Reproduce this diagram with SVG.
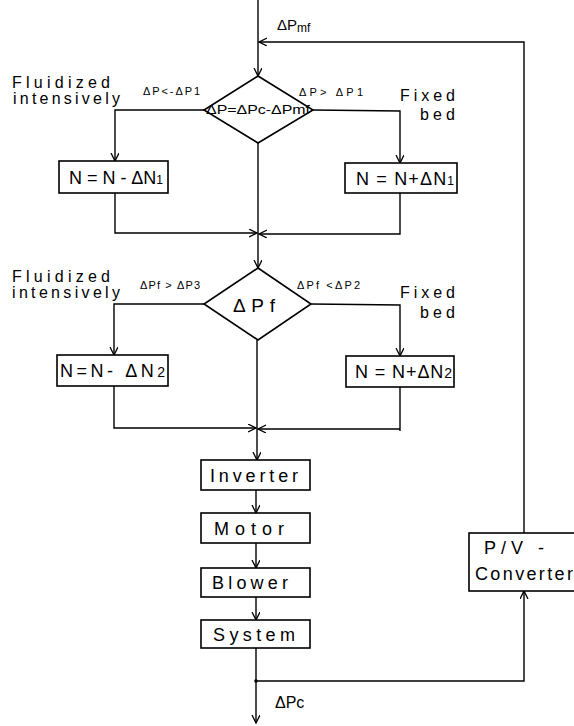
<svg xmlns="http://www.w3.org/2000/svg" width="574" height="726" viewBox="0 0 574 726">
<style>
.ln{fill:none;stroke:#000;stroke-width:1.4}
.bx{fill:#fff;stroke:#000;stroke-width:1.6}
.t{font-family:"Liberation Sans",Arial,sans-serif;fill:#000}
.big{font-size:18px}
.lab{font-size:16px}
.sm{font-size:11px}
</style>
<defs>
<marker id="arr" markerUnits="userSpaceOnUse" markerWidth="12" markerHeight="12" refX="8" refY="4" orient="auto">
<path d="M0,0 L8,4 L0,8" fill="none" stroke="#000" stroke-width="1.3"/>
</marker>
</defs>
<rect width="574" height="726" fill="#fff"/>
<g id="connectors">
<path class="ln" d="M258,0 V76" marker-end="url(#arr)"/>
<path class="ln" d="M524,533 V42 H259" marker-end="url(#arr)"/>
<path class="ln" d="M204,110 H115 V161" marker-end="url(#arr)"/>
<path class="ln" d="M313,110 L400,111 V163" marker-end="url(#arr)"/>
<path class="ln" d="M115,193 V233 H257" marker-end="url(#arr)"/>
<path class="ln" d="M400,193 V234 H259" marker-end="url(#arr)"/>
<path class="ln" d="M258,143 V268" marker-end="url(#arr)"/>
<path class="ln" d="M204,304 H114 V355" marker-end="url(#arr)"/>
<path class="ln" d="M311,304 L400,305 V356" marker-end="url(#arr)"/>
<path class="ln" d="M114,386 V428 H256" marker-end="url(#arr)"/>
<path class="ln" d="M400,387 V431 M400,429 H258" marker-end="url(#arr)"/>
<path class="ln" d="M257,340 V460" marker-end="url(#arr)"/>
<path class="ln" d="M256,490 V513" marker-end="url(#arr)"/>
<path class="ln" d="M256,543 V568" marker-end="url(#arr)"/>
<path class="ln" d="M256,597 V620" marker-end="url(#arr)"/>
<path class="ln" d="M256,648 V723" marker-end="url(#arr)"/>
<path class="ln" d="M256,681 H524 V591" marker-end="url(#arr)"/>
<circle cx="256" cy="681" r="1.8" fill="#000"/>
<text class="t" x="277" y="30" font-size="15">ΔP<tspan font-size="12" dy="2">mf</tspan></text>
<text class="t sm" x="143" y="95" textLength="57" lengthAdjust="spacing">ΔP&lt;-ΔP1</text>
<text class="t sm" x="299" y="96" textLength="64" lengthAdjust="spacing">ΔP&gt; ΔP1</text>
<text class="t lab" x="12" y="88" textLength="98" lengthAdjust="spacing">Fluidized</text>
<text class="t lab" x="13" y="104" textLength="107" lengthAdjust="spacing">intensively</text>
<text class="t lab" x="400" y="101" textLength="55" lengthAdjust="spacing">Fixed</text>
<text class="t lab" x="420" y="120" textLength="35" lengthAdjust="spacing">bed</text>
<text class="t sm" x="140" y="289" textLength="60" lengthAdjust="spacing">ΔPf &gt; ΔP3</text>
<text class="t sm" x="297" y="289" textLength="63" lengthAdjust="spacing">ΔPf &lt;ΔP2</text>
<text class="t lab" x="12" y="282" textLength="98" lengthAdjust="spacing">Fluidized</text>
<text class="t lab" x="12" y="298" textLength="108" lengthAdjust="spacing">intensively</text>
<text class="t lab" x="400" y="298" textLength="55" lengthAdjust="spacing">Fixed</text>
<text class="t lab" x="420" y="318" textLength="35" lengthAdjust="spacing">bed</text>
<text class="t lab" x="275" y="708">ΔPc</text>
</g>
<g id="decision1">
<polygon class="bx" points="258,76 313,110 258,143 204,110"/>
<text class="t" x="206" y="114" font-size="12.5" textLength="104" lengthAdjust="spacingAndGlyphs">ΔP=ΔPc-ΔPmf</text>
</g>
<g id="decrease1">
<rect class="bx" x="59" y="161" width="109" height="32"/>
<text class="t big" x="69" y="184" textLength="94" lengthAdjust="spacing">N = N - ΔN<tspan font-size="12">1</tspan></text>
</g>
<g id="increase1">
<rect class="bx" x="345" y="163" width="112" height="30"/>
<text class="t big" x="356" y="185" textLength="98" lengthAdjust="spacing">N = N+ΔN<tspan font-size="12">1</tspan></text>
</g>
<g id="decision2">
<polygon class="bx" points="258,268 311,304 258,340 204,304"/>
<text class="t" x="233" y="312" font-size="19" textLength="42" lengthAdjust="spacing">ΔPf</text>
</g>
<g id="decrease2">
<rect class="bx" x="57" y="355" width="111" height="31"/>
<text class="t big" x="60" y="377" textLength="105" lengthAdjust="spacing">N=N- ΔN<tspan font-size="14">2</tspan></text>
</g>
<g id="increase2">
<rect class="bx" x="346" y="356" width="108" height="31"/>
<text class="t big" x="355" y="378" textLength="97" lengthAdjust="spacing">N = N+ΔN<tspan font-size="14">2</tspan></text>
</g>
<g id="inverter">
<rect class="bx" x="201" y="460" width="109" height="30"/>
<text class="t big" x="210" y="482" textLength="88" lengthAdjust="spacing">Inverter</text>
</g>
<g id="motor">
<rect class="bx" x="201" y="513" width="109" height="30"/>
<text class="t big" x="214" y="535" textLength="70" lengthAdjust="spacing">Motor</text>
</g>
<g id="blower">
<rect class="bx" x="201" y="568" width="109" height="29"/>
<text class="t big" x="212" y="589" textLength="76" lengthAdjust="spacing">Blower</text>
</g>
<g id="system">
<rect class="bx" x="201" y="620" width="109" height="28"/>
<text class="t big" x="213" y="641" textLength="82" lengthAdjust="spacing">System</text>
</g>
<g id="pv-converter">
<rect class="bx" x="469" y="533" width="112" height="58"/>
<text class="t big" x="484" y="554" textLength="60" lengthAdjust="spacing">P/V -</text>
<text class="t big" x="475" y="580" textLength="98" lengthAdjust="spacing">Converter</text>
</g>
</svg>
